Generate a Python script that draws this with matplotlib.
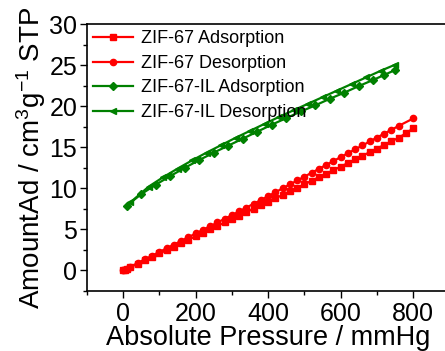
import matplotlib
matplotlib.use("Agg")
import matplotlib.pyplot as plt
from matplotlib.ticker import MultipleLocator

plt.rcParams['font.family'] = ['Liberation Sans', 'DejaVu Sans']
plt.rcParams['mathtext.fontset'] = 'custom'
plt.rcParams['mathtext.rm'] = 'Liberation Sans'
plt.rcParams['mathtext.it'] = 'Liberation Sans'

# ZIF-67 adsorption
zif_ads_x = [0, 5, 10, 20, 40, 60, 80, 100, 120, 140, 160, 180, 200, 220, 240, 260, 280, 300,
             320, 340, 360, 380, 400, 420, 440, 460, 480, 500, 520, 540, 560, 580, 600, 620,
             640, 660, 680, 700, 720, 740, 760, 780, 800]
zif_ads_y = [0.0, 0.1, 0.2, 0.4, 0.82, 1.24, 1.65, 2.07, 2.48, 2.9, 3.32, 3.74, 4.16, 4.58, 5.0,
             5.42, 5.84, 6.26, 6.68, 7.1, 7.52, 7.94, 8.36, 8.78, 9.2, 9.63, 10.06, 10.49, 10.92,
             11.35, 11.78, 12.21, 12.64, 13.08, 13.52, 13.96, 14.4, 14.84, 15.28, 15.72, 16.16,
             16.7, 17.3]
# ZIF-67 desorption
zif_des_x = [800, 760, 740, 720, 700, 680, 660, 640, 620, 600, 580, 560, 540, 520, 500, 480, 460,
             440, 420, 400, 380, 360, 340, 320, 300, 280, 260, 240, 220, 200, 180, 160, 140, 120,
             100, 80, 60, 40, 20, 10, 0]
zif_des_y = [18.5, 17.6, 17.12, 16.66, 16.18, 15.7, 15.22, 14.75, 14.27, 13.8, 13.32, 12.85, 12.37,
             11.9, 11.42, 10.95, 10.48, 10.0, 9.53, 9.05, 8.58, 8.12, 7.66, 7.2, 6.74, 6.29, 5.84,
             5.39, 4.94, 4.5, 4.05, 3.6, 3.15, 2.7, 2.25, 1.8, 1.35, 0.9, 0.45, 0.23, 0.05]
# ZIF-67-IL adsorption
il_ads_x = [10, 50, 90, 130, 170, 210, 250, 290, 330, 370, 410, 450, 490, 530, 570, 610, 650, 690,
            720, 750]
il_ads_y = [7.9, 9.3, 10.45, 11.5, 12.5, 13.45, 14.35, 15.2, 16.05, 16.9, 17.75, 18.55, 19.35,
            20.1, 20.9, 21.65, 22.45, 23.2, 23.8, 24.4]
# ZIF-67-IL desorption
il_des_x = [750, 710, 670, 630, 590, 550, 510, 470, 430, 390, 350, 310, 270, 230, 190, 150, 110,
            70, 20]
il_des_y = [25.05, 24.3, 23.5, 22.7, 21.9, 21.1, 20.3, 19.5, 18.7, 17.85, 17.0, 16.15, 15.25, 14.35,
            13.4, 12.4, 11.35, 10.2, 8.3]

labels = ["ZIF-67 Adsorption", "ZIF-67 Desorption", "ZIF-67-IL Adsorption", "ZIF-67-IL Desorption"]

red = '#ff0000'
green = '#008000'

fig = plt.figure(figsize=(4.45, 3.51), dpi=100)
ax = fig.add_axes([0.1955, 0.171, 0.8146, 0.7606])

ms = 4.5
ax.plot(zif_ads_x, zif_ads_y, '-s', color=red, lw=1.6, ms=ms, label=labels[0])
ax.plot(zif_des_x, zif_des_y, '-o', color=red, lw=1.6, ms=ms, label=labels[1])
ax.plot(il_ads_x, il_ads_y, '-D', color=green, lw=1.6, ms=ms, label=labels[2])
ax.plot(il_des_x, il_des_y, '-<', color=green, lw=1.6, ms=ms + 0.5, label=labels[3])

ax.set_xlim(-100, 900)
ax.set_ylim(-2.5, 30)
ax.xaxis.set_major_locator(MultipleLocator(200))
ax.xaxis.set_minor_locator(MultipleLocator(100))
ax.yaxis.set_major_locator(MultipleLocator(5))
ax.yaxis.set_minor_locator(MultipleLocator(2.5))
ax.tick_params(which='both', direction='out', top=False, right=False, labelsize=18, width=1)
ax.tick_params(which='major', length=5)
ax.tick_params(which='minor', length=3)
ax.tick_params(axis='x', pad=3)
ax.tick_params(axis='y', pad=2)
for s in ax.spines.values():
    s.set_linewidth(1.2)
ax.spines['right'].set_visible(False)

ax.set_xlabel("Absolute Pressure / mmHg", fontsize=19.5, labelpad=-1)
ax.set_ylabel("AmountAd / cm$^3$g$^{-1}$ STP", fontsize=20, labelpad=1)

ax.legend(loc='upper left', frameon=False, fontsize=13, handlelength=2.2, handletextpad=0.45,
          labelspacing=0.42, borderaxespad=0.15, borderpad=0.2)

fig.savefig("out.png", dpi=100)
